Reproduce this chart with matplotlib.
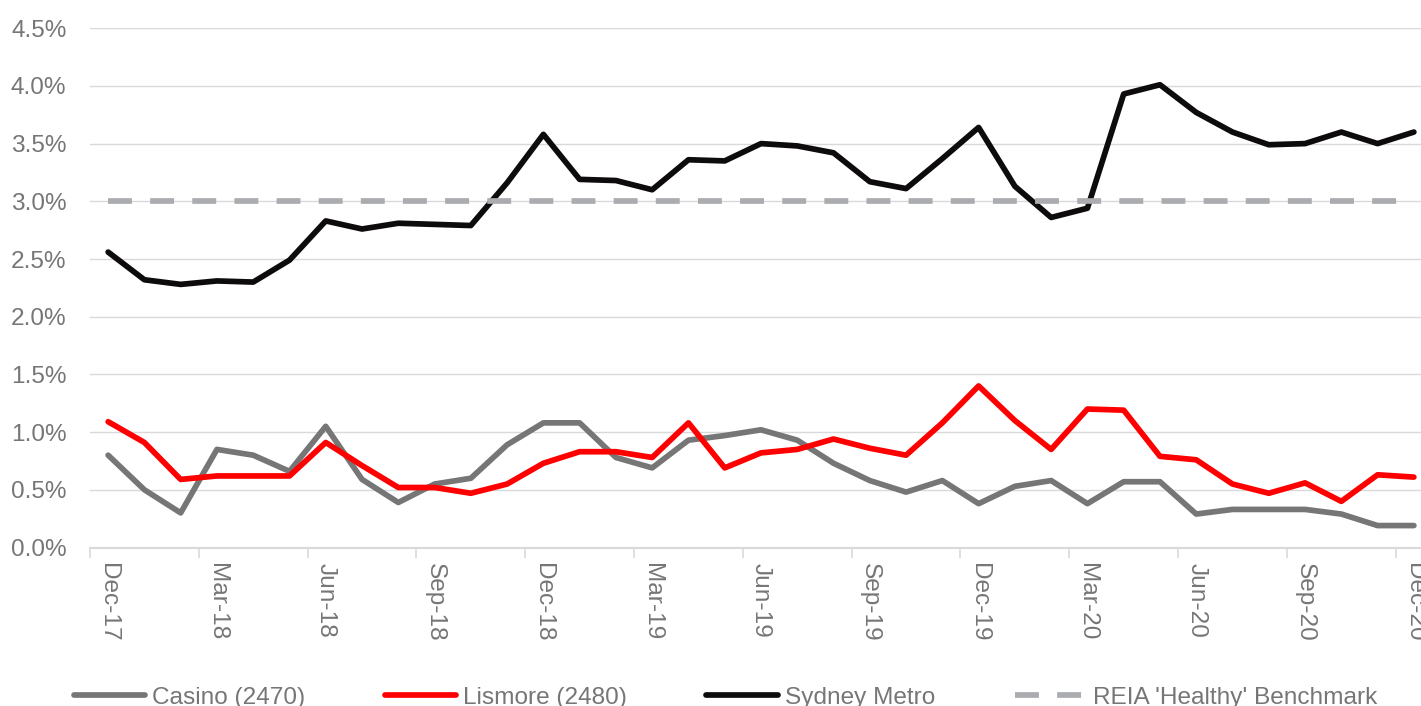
import matplotlib
matplotlib.use("Agg")
import matplotlib.pyplot as plt
from matplotlib.ticker import FixedLocator, FuncFormatter

plt.rcParams['font.family'] = ['Liberation Sans', 'DejaVu Sans']

# Monthly vacancy rates (%), Dec-17 to Dec-20
months = ['Dec-17', 'Jan-18', 'Feb-18', 'Mar-18', 'Apr-18', 'May-18', 'Jun-18',
          'Jul-18', 'Aug-18', 'Sep-18', 'Oct-18', 'Nov-18', 'Dec-18',
          'Jan-19', 'Feb-19', 'Mar-19', 'Apr-19', 'May-19', 'Jun-19',
          'Jul-19', 'Aug-19', 'Sep-19', 'Oct-19', 'Nov-19', 'Dec-19',
          'Jan-20', 'Feb-20', 'Mar-20', 'Apr-20', 'May-20', 'Jun-20',
          'Jul-20', 'Aug-20', 'Sep-20', 'Oct-20', 'Nov-20', 'Dec-20']

casino = [0.80, 0.50, 0.30, 0.85, 0.80, 0.66, 1.05, 0.59, 0.39, 0.55, 0.60, 0.89, 1.08,
          1.08, 0.78, 0.69, 0.93, 0.97, 1.02, 0.93, 0.73, 0.58, 0.48, 0.58, 0.38,
          0.53, 0.58, 0.38, 0.57, 0.57, 0.29, 0.33, 0.33, 0.33, 0.29, 0.19, 0.19]

lismore = [1.09, 0.91, 0.59, 0.62, 0.62, 0.62, 0.91, 0.71, 0.52, 0.52, 0.47, 0.55, 0.73,
           0.83, 0.83, 0.78, 1.08, 0.69, 0.82, 0.85, 0.94, 0.86, 0.80, 1.08, 1.40,
           1.10, 0.85, 1.20, 1.19, 0.79, 0.76, 0.55, 0.47, 0.56, 0.40, 0.63, 0.61]

sydney = [2.56, 2.32, 2.28, 2.31, 2.30, 2.49, 2.83, 2.76, 2.81, 2.80, 2.79, 3.16, 3.58,
          3.19, 3.18, 3.10, 3.36, 3.35, 3.50, 3.48, 3.42, 3.17, 3.11, 3.37, 3.64,
          3.13, 2.86, 2.94, 3.93, 4.01, 3.77, 3.60, 3.49, 3.50, 3.60, 3.50, 3.60]

benchmark = 3.0

y_ticks = [0.0, 0.5, 1.0, 1.5, 2.0, 2.5, 3.0, 3.5, 4.0, 4.5]

TEXT = '#767676'
GRID = '#D9D9D9'
FS = 17.6
LW = 4.1

W, H = 1421, 706
fig = plt.figure(figsize=(W / 100, H / 100), dpi=100)
ax = fig.add_axes([90 / W, 1 - 547.5 / H, (1432 - 90) / W, (547.5 - 28.2) / H])

x = list(range(len(months)))
ax.plot(x, casino, color='#767676', lw=LW, solid_capstyle='round',
        solid_joinstyle='round', label='Casino (2470)', zorder=3)
ax.plot(x, lismore, color='#FF0000', lw=LW, solid_capstyle='round',
        solid_joinstyle='round', label='Lismore (2480)', zorder=4)
ax.plot(x, sydney, color='#0D0B0B', lw=LW, solid_capstyle='round',
        solid_joinstyle='round', label='Sydney Metro', zorder=5)
ax.plot(x, [benchmark] * len(months), color='#ABACAF', lw=LW,
        dashes=(4.2, 3.2), dash_capstyle='butt',
        label="REIA 'Healthy' Benchmark", zorder=6)

ax.set_xlim(-0.5, len(months) - 0.5)
ax.set_ylim(0, 4.5)

# y axis
ax.yaxis.set_major_locator(FixedLocator(y_ticks))
ax.yaxis.set_major_formatter(FuncFormatter(lambda v, p: f'{v:.1f}%'))
ax.tick_params(axis='y', length=0, pad=17, labelsize=FS, labelcolor=TEXT)
ax.grid(axis='y', color=GRID, lw=1.0, zorder=0)

# x axis: labels every quarter, tick marks between categories
label_pos = x[::3]
ax.xaxis.set_major_locator(FixedLocator(label_pos))
ax.set_xticklabels([months[i] for i in label_pos], rotation=270,
                   fontsize=FS, color=TEXT)
ax.xaxis.set_minor_locator(FixedLocator([p - 0.5 for p in label_pos] + [len(months) - 0.5]))
ax.tick_params(axis='x', which='major', length=0, pad=11)
ax.tick_params(axis='x', which='minor', length=7, width=1.2, color=GRID)

for s in ['top', 'right', 'left']:
    ax.spines[s].set_visible(False)
ax.spines['bottom'].set_color(GRID)
ax.spines['bottom'].set_linewidth(1.5)
ax.spines['bottom'].set_zorder(1)

leg = fig.legend(loc='center', bbox_to_anchor=(725.5 / W, 1 - 697.5 / H), ncol=4,
                 frameon=False, fontsize=FS, handlelength=2.93, handletextpad=0.28,
                 columnspacing=3.25, borderpad=0, borderaxespad=0)
for t in leg.get_texts():
    t.set_color(TEXT)

fig.savefig('out.png', dpi=100)
